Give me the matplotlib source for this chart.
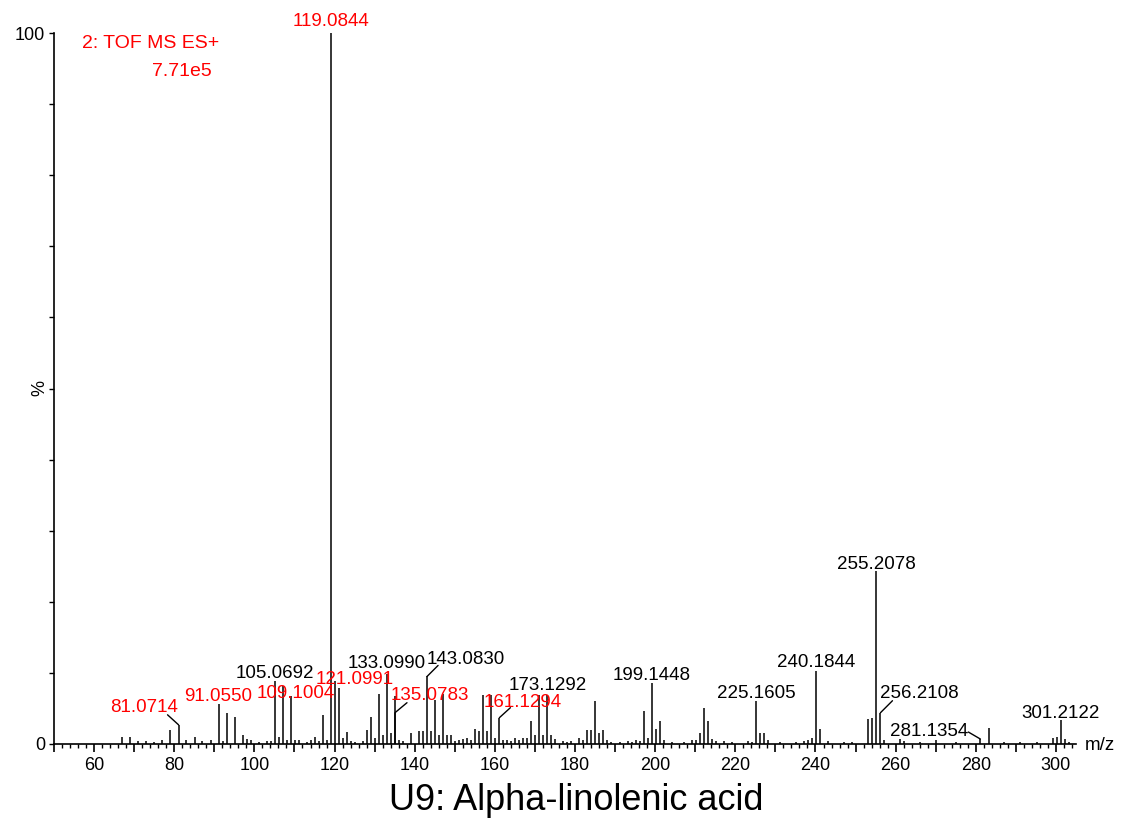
import matplotlib
matplotlib.use("Agg")
from matplotlib import pyplot as plt
from matplotlib.ticker import MultipleLocator, FixedLocator
import numpy as np

plt.rcParams['font.family'] = ['Liberation Sans', 'DejaVu Sans']

# spectrum: m/z and relative intensity (%)
mz = [67.05, 69.07, 71.05, 73.06, 75.05, 77.04, 79.05, 81.0714, 83.05, 85.06,
      87.05, 89.06, 91.0550, 92.06, 93.07, 95.08, 97.07, 98.07, 99.08, 101.06,
      103.05, 104.06, 105.0692, 106.07, 107.08, 108.08, 109.1004, 110.07, 111.08, 113.09,
      114.08, 115.06, 116.06, 117.07, 118.07, 119.0844, 120.09, 121.0991, 122.09, 123.09,
      124.09, 125.08, 127.08, 128.06, 129.07, 130.08, 131.09, 132.09, 133.0990, 134.09,
      135.0783, 135.12, 136.1, 137.1, 139.08, 141.07, 142.08, 143.0830, 144.08, 145.1,
      146.1, 147.1, 148.1, 149.1, 150.1, 151.1, 152.1, 153.1, 154.1, 155.1,
      156.1, 157.1, 158.1, 159.1, 160.1, 161.1294, 162.1, 163.1, 164.1, 165.1,
      166.1, 167.1, 168.1, 169.1, 170.1, 171.1, 172.1, 173.1292, 174.1, 175.1,
      177.1, 178.1, 179.1, 181.1, 182.1, 183.1, 184.1, 185.1, 186.1, 187.1,
      188.1, 189.1, 191.1, 193.1, 194.1, 195.1, 196.1, 197.1, 198.1, 199.1448,
      200.1, 201.1, 202.1, 204.1, 207.1, 209.1, 210.1, 211.1, 212.1, 213.1,
      214.1, 215.1, 217.1, 219.1, 223.1, 224.1, 225.1605, 226.1, 227.1, 228.1,
      231.1, 235.1, 237.1, 238.1, 239.1, 240.1844, 241.2, 243.1, 247.1, 249.1,
      253.2, 254.2, 255.2078, 256.2108, 257.2, 261.1, 262.1, 266.1, 270.1, 275.1,
      281.1354, 283.2, 287.1, 291.1, 295.2, 299.2, 300.2, 301.2122, 302.2, 303.2]
intensity = [1.0, 1.0, 0.4, 0.4, 0.3, 0.6, 1.9, 2.7, 0.6, 1.0,
             0.4, 0.6, 5.6, 0.4, 4.3, 3.8, 1.3, 0.7, 0.6, 0.3,
             0.4, 0.4, 8.8, 1.0, 8.1, 0.5, 6.7, 0.6, 0.5, 0.3,
             0.6, 1.0, 0.4, 4.1, 0.5, 100.0, 8.8, 7.9, 0.9, 1.7,
             0.4, 0.3, 0.4, 2.0, 3.8, 0.8, 7.0, 1.2, 9.9, 1.5,
             4.4, 6.7, 0.6, 0.4, 1.5, 1.8, 1.8, 9.5, 1.8, 6.2,
             1.2, 7.0, 1.2, 1.2, 0.4, 0.5, 0.7, 0.8, 0.5, 2.1,
             1.8, 6.9, 1.8, 6.9, 0.8, 3.7, 0.5, 0.5, 0.4, 0.8,
             0.5, 0.8, 0.8, 3.3, 1.3, 6.9, 1.3, 6.9, 1.2, 0.7,
             0.4, 0.3, 0.4, 0.8, 0.6, 1.9, 1.9, 6.1, 1.6, 1.9,
             0.5, 0.3, 0.3, 0.4, 0.3, 0.5, 0.4, 4.7, 0.9, 8.6,
             2.1, 3.2, 0.6, 0.3, 0.3, 0.6, 0.5, 1.6, 5.0, 3.3,
             0.7, 0.4, 0.4, 0.3, 0.4, 0.3, 6.1, 1.6, 1.5, 0.5,
             0.3, 0.3, 0.4, 0.5, 0.8, 10.2, 2.1, 0.4, 0.3, 0.3,
             3.5, 3.6, 24.4, 4.4, 0.6, 0.7, 0.4, 0.3, 0.5, 0.3,
             0.7, 2.3, 0.3, 0.3, 0.3, 0.9, 1.0, 3.4, 0.7, 0.3]

# labelled peaks
lab_mz = [119.0844, 81.0714, 91.0550, 105.0692, 109.1004, 121.0991, 133.0990, 135.0783,
          143.0830, 161.1294, 173.1292, 199.1448, 225.1605, 240.1844, 255.2078, 256.2108,
          281.1354, 301.2122]
lab_red = [True, True, True, False, True, True, False, True,
           False, True, False, False, False, False, False, False,
           False, False]

fig = plt.figure(figsize=(11.21, 8.19), dpi=100)
ax = fig.add_axes([54/1121, 75/819, 1022/1121, 711/819])

ax.vlines(mz, 0, intensity, color='black', lw=1.1)

ax.set_xlim(50, 305)
ax.set_ylim(0, 100)
for s in ['top', 'right']:
    ax.spines[s].set_visible(False)
for s in ['left', 'bottom']:
    ax.spines[s].set_linewidth(1.2)

ax.xaxis.set_minor_locator(MultipleLocator(2))
ax.set_xticks(np.arange(50, 306, 10))
ax.set_xticklabels([str(v) if v % 20 == 0 else '' for v in np.arange(50, 306, 10)])
ax.yaxis.set_major_locator(FixedLocator(np.arange(0, 101, 10)))
ax.set_yticklabels(['0'] + [''] * 9 + ['100'])
ax.tick_params(axis='x', which='major', length=5.5, width=1.2, labelsize=13, pad=4)
ax.tick_params(axis='x', which='minor', length=3, width=1.0)
ax.tick_params(axis='y', which='major', length=3.5, width=1.0, labelsize=13, pad=3)

# label offsets (pixels): text baseline offset and leader end offset
offsets = {
    119.0844: ((0, 7), None),
    81.0714: ((-34, 13), (-11, 10)),
    91.0550: ((0, 3), None),
    105.0692: ((0, 3), None),
    109.1004: ((5, -2), None),
    121.0991: ((16, 4), None),
    133.0990: ((0, 6), None),
    135.0783: ((35, 13), (12, 10)),
    143.0830: ((39, 12), (11, 11)),
    161.1294: ((23, 11), (11, 10)),
    173.1292: ((0, 5), None),
    199.1448: ((0, 3), None),
    225.1605: ((0, 3), None),
    240.1844: ((0, 4), None),
    255.2078: ((0, 2), None),
    256.2108: ((39, 15), (12, 12)),
    281.1354: ((-51, 3), (-12, 7)),
    301.2122: ((0, 2), None),
}
for m, red in zip(lab_mz, lab_red):
    h = intensity[mz.index(m)]
    txt, lead = offsets[m]
    ax.annotate(f"{m:.4f}", xy=(m, h), xytext=txt, textcoords='offset pixels',
                ha='center', va='baseline', fontsize=13.5,
                color='#ff0000' if red else 'black', annotation_clip=False)
    if lead is not None:
        ax.annotate('', xy=(m, h), xytext=lead, textcoords='offset pixels',
                    arrowprops=dict(arrowstyle='-', color='black', lw=1.0,
                                    shrinkA=0, shrinkB=0))

fig.text(82/1121, 1 - 43/819, "2: TOF MS ES+", color='#ff0000', fontsize=14, va='center', ha='left')
fig.text(152/1121, 1 - 72/819, "7.71e5", color='#ff0000', fontsize=14, va='center', ha='left')
fig.text(40/1121, 1 - 388/819, "%", fontsize=13, rotation=90, va='center', ha='center')
fig.text(1085/1121, 1 - 745/819, "m/z", fontsize=13.5, va='center', ha='left')
fig.text(576/1121, 1 - 800/819, "U9: Alpha-linolenic acid", fontsize=26, va='center', ha='center')

plt.savefig("out.png", dpi=100)
